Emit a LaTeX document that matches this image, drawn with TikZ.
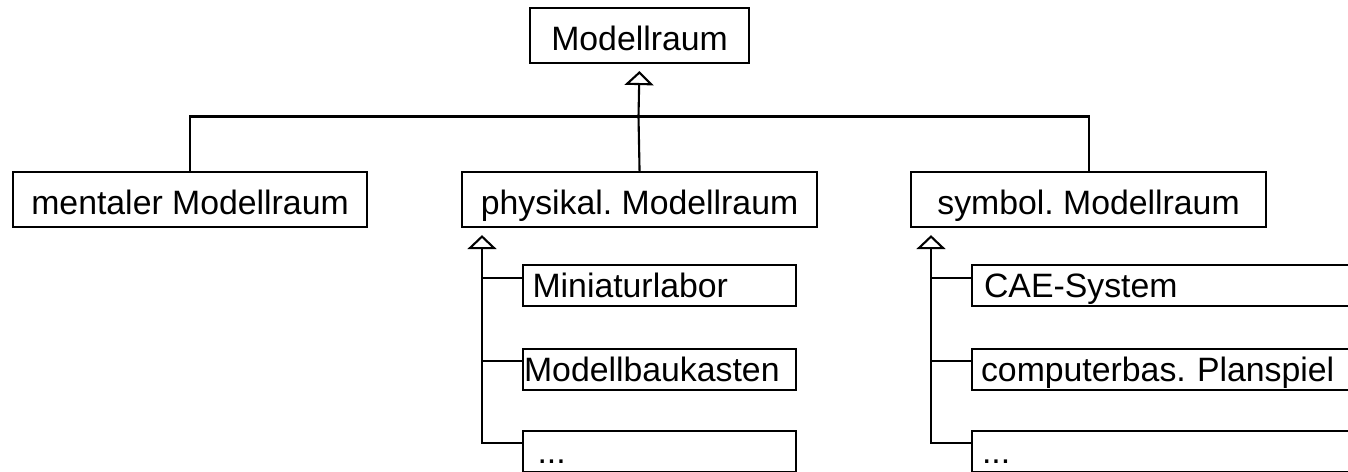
\documentclass[tikz,border=0pt]{standalone}
\usepackage{fontspec}
\setmainfont{Liberation Sans}
\usetikzlibrary{arrows.meta}
\frenchspacing
\begin{document}
\begin{tikzpicture}[x=1pt,y=-1pt,line width=2.1pt,
  bigbox/.style={draw, anchor=north west, inner sep=0pt, text height=42pt, text depth=13pt, font=\fontsize{33.8}{40}\selectfont},
  smallbox/.style={draw, anchor=north west, inner sep=0pt, align=left, text height=32pt, text depth=9pt, font=\fontsize{33.8}{40}\selectfont},
  inh/.style={-{Triangle[open,length=14pt,width=29pt]}, shorten >=7pt}
]
\path[use as bounding box] (0,0) rectangle (1348,471);
\clip (0,0) rectangle (1348,471);

\node[bigbox, minimum width=219pt] (top) at (529,7) {Modellraum};
\node[bigbox, minimum width=354pt] (mental) at (12,171) {mentaler Modellraum};
\node[bigbox, minimum width=355pt] (phys) at (461,171) {physikal. Modellraum};
\node[bigbox, minimum width=355pt] (symb) at (910,171) {symbol. Modellraum};

\node[smallbox, text width=273.5pt] (m1) at (521.5,264) {\hspace*{10pt}Miniaturlabor};
\node[smallbox, text width=273.5pt] (m2) at (521.5,348) {\hspace*{1.5pt}Modellbaukasten};
\node[smallbox, text width=273.5pt] (m3) at (521.5,430) {\hspace*{15pt}...};

\node[smallbox, text width=400pt] (s1) at (971,264) {\hspace*{12pt}CAE-System};
\node[smallbox, text width=400pt] (s2) at (971,348) {\hspace*{9pt}computerbas. Planspiel};
\node[smallbox, text width=400pt] (s3) at (971,430) {\hspace*{10pt}...};

\coordinate (j) at (638.5,116.5);
\draw (mental.north) |- (j) -| (symb.north);
\draw (phys.north) -- (j);
\draw[inh] (j) -- (top.south);

\coordinate (pt) at ([xshift=21pt]phys.south west);
\coordinate (m1b) at ([yshift=-14pt]m1.north west);
\coordinate (m2b) at ([yshift=-13pt]m2.north west);
\coordinate (m3b) at ([yshift=-13pt]m3.north west);
\draw[inh] (m3b) -| (pt);
\draw (m1b) -- (m1b -| pt);
\draw (m2b) -- (m2b -| pt);

\coordinate (st) at ([xshift=21pt]symb.south west);
\coordinate (s1b) at ([yshift=-14pt]s1.north west);
\coordinate (s2b) at ([yshift=-13pt]s2.north west);
\coordinate (s3b) at ([yshift=-13pt]s3.north west);
\draw[inh] (s3b) -| (st);
\draw (s1b) -- (s1b -| st);
\draw (s2b) -- (s2b -| st);
\end{tikzpicture}
\end{document}
